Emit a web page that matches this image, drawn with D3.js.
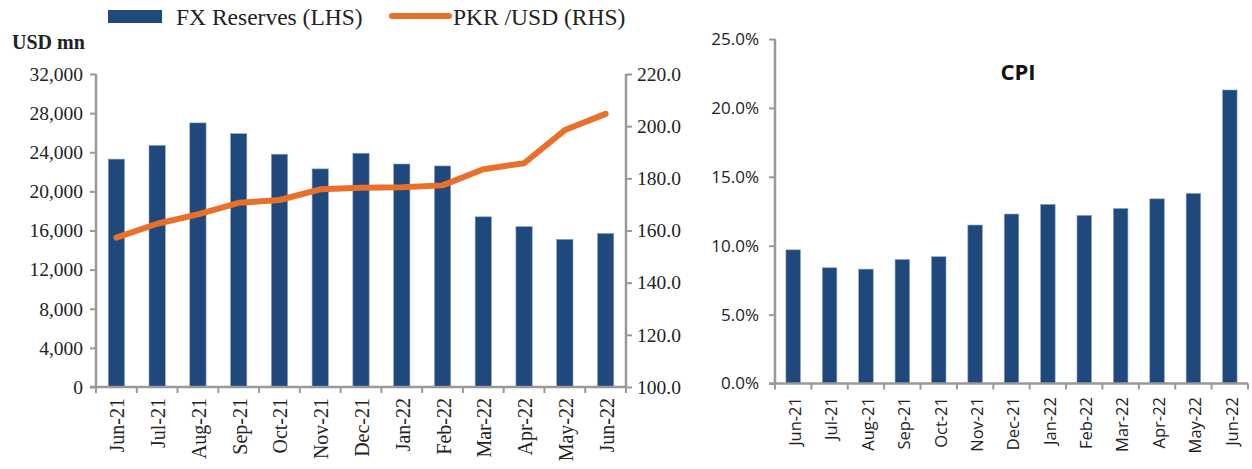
<!DOCTYPE html>
<html>
<head>
<meta charset="utf-8">
<script src="https://cdn.jsdelivr.net/npm/d3@7"></script>
<style>
  body { margin: 0; background: #fff; }
  svg { display: block; }
</style>
</head>
<body>
<svg id="chart" width="1252" height="469"></svg>
<script>
// data
const months = ["Jun-21", "Jul-21", "Aug-21", "Sep-21", "Oct-21", "Nov-21", "Dec-21",
                "Jan-22", "Feb-22", "Mar-22", "Apr-22", "May-22", "Jun-22"];
const fxReserves = [23300, 24700, 27000, 25900, 23800, 22300, 23900, 22800, 22600, 17400, 16400, 15100, 15700];
const pkrUsd = [157.3, 162.6, 166.2, 170.6, 171.7, 175.8, 176.4, 176.6, 177.3, 183.5, 185.8, 198.5, 204.7];
const cpi = [9.7, 8.4, 8.3, 9.0, 9.2, 11.5, 12.3, 13.0, 12.2, 12.7, 13.4, 13.8, 21.3];
const leftTicks = [0, 4000, 8000, 12000, 16000, 20000, 24000, 28000, 32000];
const rightTicks = [100, 120, 140, 160, 180, 200, 220];
const cpiTicks = [0, 5, 10, 15, 20, 25];

const blue = "#1F497D";
const orange = "#E8702A";
const grey = "#999";
const serif = "'Liberation Serif', serif";
const sans = "'Open Sans', sans-serif";

const svg = d3.select("#chart");

// ---------- FX reserves / PKR chart ----------
const L = {x0: 96, x1: 626, y0: 387, y1: 74};
const x = d3.scaleBand().domain(months).range([L.x0, L.x1]).paddingInner(0.6).paddingOuter(0.3);
const yL = d3.scaleLinear().domain([0, 32000]).range([L.y0, L.y1]);
const yR = d3.scaleLinear().domain([100, 220]).range([L.y0, L.y1]);

const left = svg.append("g");

left.selectAll("rect.bar")
    .data(fxReserves)
    .join("rect")
    .attr("class", "bar")
    .attr("x", (d, i) => x(months[i]))
    .attr("y", d => yL(d))
    .attr("width", x.bandwidth())
    .attr("height", d => yL(0) - yL(d))
    .style("fill", blue)
    .style("stroke", "#8fa6c4")
    .style("stroke-width", 0.6);

// left axis
const axL = left.append("g")
    .attr("transform", `translate(${L.x0},0)`)
    .call(d3.axisLeft(yL).tickValues(leftTicks).tickSize(6).tickPadding(7).tickFormat(d3.format(",")));
// right axis
const axR = left.append("g")
    .attr("transform", `translate(${L.x1},0)`)
    .call(d3.axisRight(yR).tickValues(rightTicks).tickSize(6).tickPadding(5).tickFormat(d3.format(".1f")));
[axL, axR].forEach(a => {
    a.select(".domain").attr("d", `M0,${L.y0}V${L.y1}`).style("stroke", grey).style("stroke-width", 2.5);
    a.selectAll(".tick line").style("stroke", grey).style("stroke-width", 2);
    a.selectAll("text").style("font-family", serif).style("font-size", "19.5px").style("fill", "#222");
});

// x axis
left.append("line")
    .attr("x1", L.x0 - 6).attr("x2", L.x1)
    .attr("y1", L.y0).attr("y2", L.y0)
    .style("stroke", grey).style("stroke-width", 2.5);
left.selectAll("line.xtick")
    .data(d3.range(months.length + 1))
    .join("line")
    .attr("class", "xtick")
    .attr("x1", i => L.x0 + i * x.step())
    .attr("x2", i => L.x0 + i * x.step())
    .attr("y1", L.y0).attr("y2", L.y0 + 6)
    .style("stroke", grey).style("stroke-width", 2);
left.selectAll("text.xlab")
    .data(months)
    .join("text")
    .attr("class", "xlab")
    .attr("transform", d => `translate(${x(d) + x.bandwidth() / 2 + 1},398) rotate(-90)`)
    .attr("dy", "0.35em")
    .attr("text-anchor", "end")
    .style("font-family", serif)
    .style("font-size", "20px")
    .style("fill", "#222")
    .text(d => d);

// PKR line
const line = d3.line()
    .x((d, i) => x(months[i]) + x.bandwidth() / 2)
    .y(d => yR(d));
left.append("path")
    .datum(pkrUsd)
    .attr("d", line)
    .style("fill", "none")
    .style("stroke", orange)
    .style("stroke-width", 6)
    .style("stroke-linecap", "round")
    .style("stroke-linejoin", "round");

// unit label
left.append("text")
    .attr("x", 12).attr("y", 49)
    .style("font-family", serif).style("font-size", "20px").style("font-weight", "bold")
    .style("fill", "#222")
    .text("USD mn");

// legend
const legend = svg.append("g");
legend.append("rect")
    .attr("x", 108).attr("y", 10).attr("width", 54).attr("height", 13)
    .style("fill", blue);
legend.append("text")
    .attr("x", 176).attr("y", 25)
    .style("font-family", serif).style("font-size", "23.5px").style("fill", "#222")
    .text("FX Reserves (LHS)");
legend.append("line")
    .attr("x1", 392).attr("x2", 449).attr("y1", 16).attr("y2", 16)
    .style("stroke", orange).style("stroke-width", 6).style("stroke-linecap", "round");
legend.append("text")
    .attr("x", 453).attr("y", 25)
    .style("font-family", serif).style("font-size", "23.5px").style("fill", "#222")
    .text("PKR /USD (RHS)");

// ---------- CPI chart ----------
const R = {x0: 775, x1: 1248, y0: 383.5, y1: 39};
const x2 = d3.scaleBand().domain(months).range([R.x0, R.x1]).paddingInner(0.6).paddingOuter(0.3);
const y2 = d3.scaleLinear().domain([0, 25]).range([R.y0, R.y1]);

const right = svg.append("g");

right.selectAll("rect.bar")
    .data(cpi)
    .join("rect")
    .attr("class", "bar")
    .attr("x", (d, i) => x2(months[i]))
    .attr("y", d => y2(d))
    .attr("width", x2.bandwidth())
    .attr("height", d => y2(0) - y2(d))
    .style("fill", blue)
    .style("stroke", "#8fa6c4")
    .style("stroke-width", 0.6);

const ax2 = right.append("g")
    .attr("transform", `translate(${R.x0},0)`)
    .call(d3.axisLeft(y2).tickValues(cpiTicks).tickSize(6).tickPadding(10).tickFormat(d => d.toFixed(1) + "%"));
ax2.select(".domain").attr("d", `M0,${R.y0}V${R.y1}`).style("stroke", grey).style("stroke-width", 2.5);
ax2.selectAll(".tick line").style("stroke", grey).style("stroke-width", 2);
ax2.selectAll("text").style("font-family", sans).style("font-size", "17px").style("fill", "#222");

right.append("line")
    .attr("x1", R.x0 - 6).attr("x2", R.x1)
    .attr("y1", R.y0).attr("y2", R.y0)
    .style("stroke", grey).style("stroke-width", 2.5);
right.selectAll("line.xtick")
    .data(d3.range(months.length + 1))
    .join("line")
    .attr("class", "xtick")
    .attr("x1", i => R.x0 + i * x2.step())
    .attr("x2", i => R.x0 + i * x2.step())
    .attr("y1", R.y0).attr("y2", R.y0 + 6)
    .style("stroke", grey).style("stroke-width", 2);
right.selectAll("text.xlab")
    .data(months)
    .join("text")
    .attr("class", "xlab")
    .attr("transform", d => `translate(${x2(d) + x2.bandwidth() / 2 + 2},397) rotate(-90)`)
    .attr("dy", "0.35em")
    .attr("text-anchor", "end")
    .style("font-family", sans)
    .style("font-size", "16.5px")
    .style("fill", "#222")
    .text(d => d);

right.append("text")
    .attr("x", 1018).attr("y", 80)
    .attr("text-anchor", "middle")
    .style("font-family", sans).style("font-size", "22px").style("font-weight", "bold")
    .style("fill", "#111")
    .text("CPI");
</script>
</body>
</html>
